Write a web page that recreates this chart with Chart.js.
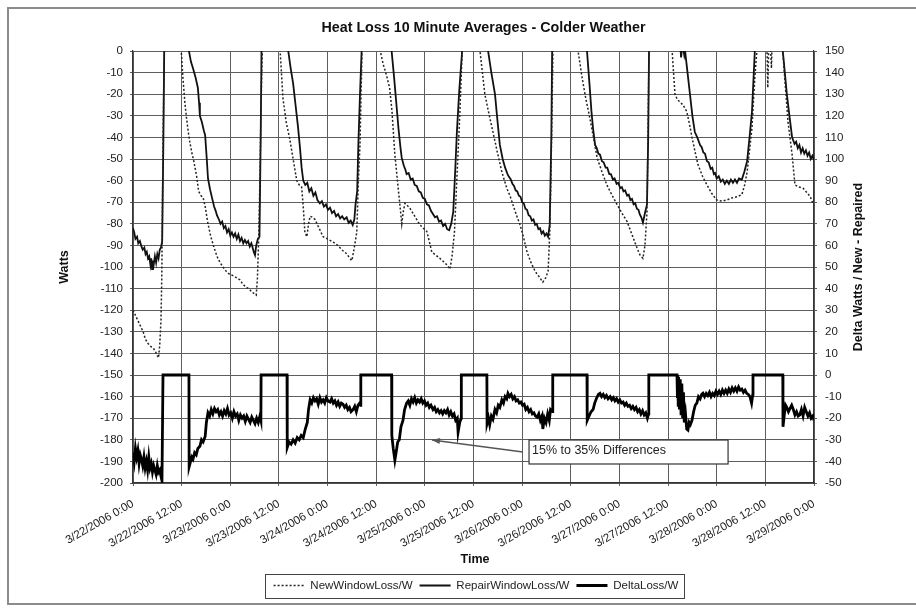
<!DOCTYPE html>
<html>
<head>
<meta charset="utf-8">
<script src="https://cdn.jsdelivr.net/npm/chart.js@4.4.1/dist/chart.umd.min.js"></script>
<style>
  html, body { margin: 0; padding: 0; background: #fff; }
  #wrap { width: 916px; height: 609px; }
</style>
</head>
<body>
<div id="wrap"><canvas id="heatLoss" width="916" height="609"></canvas></div>
<script>
'use strict';

// x = hours since 3/22/2006 0:00, y = watts
const newWindowLoss = [
  [0,-120],[0.5,-122],[1,-124],[1.5,-126],[2,-128],[2.5,-130],[3,-133],[3.5,-135],[4,-136],[4.5,-137],[5,-137.5],[5.5,-139],[6,-141],[6.3,-142],[6.6,-136],[6.9,-125],[7.1,-105],[7.4,-44],[7.7,0],[8,25],
  [11.6,15],[11.9,0],[12.3,-12],[12.8,-24],[13.2,-31],[13.6,-37],[14,-42],[14.5,-47],[15,-51],[15.7,-58],[16.2,-65],[16.8,-67],[17.3,-68],[17.8,-72],[18.5,-80],[19.2,-86],[20,-91],[20.7,-95],[21.5,-98],[22.2,-100],[23,-102],[23.9,-103.5],[24.7,-104],[25.6,-105],[26.4,-106],[27.1,-108],[28,-109.5],[28.6,-110],[29.3,-111.5],[30,-112.5],[30.4,-113],[30.7,-105],[31,-87],[31.3,-60],[31.6,-25],[31.9,0],[32.2,25],
  [36,15],[36.3,0],[37,-22],[37.8,-33],[38.7,-41],[39.5,-50],[40.4,-60],[41,-62],[41.6,-63],[42,-72],[42.4,-84],[42.9,-86],[43.3,-80],[43.7,-76.5],[44.3,-77],[44.9,-78],[45.9,-82],[46.9,-86],[48,-87],[49.4,-88.5],[50.5,-90],[51.8,-92.5],[52.8,-94],[53.5,-96],[54,-97],[54.5,-92],[55.2,-84],[55.6,-60],[56,-43.5],[56.5,0],[56.8,25],
  [60.7,15],[61,0],[61.7,-6],[62.5,-11],[63.3,-17],[63.9,-28],[64.6,-48],[65.5,-65],[66.1,-76],[66.3,-80],[66.7,-74],[67.1,-70.5],[68.3,-72.7],[69.5,-76.5],[70.8,-80.5],[72.5,-83.6],[73.2,-89],[73.7,-93],[74.7,-94.5],[75.7,-96],[76.6,-97.5],[77.4,-99],[78.2,-101],[78.7,-95],[79.3,-84],[79.9,-59],[80.6,-30],[81.2,0],[81.5,25],
  [85.3,15],[85.6,0],[86.2,-10],[86.8,-20],[87.8,-29],[88.8,-37.5],[89.9,-47],[91,-56],[92.2,-63.5],[93,-67],[93.7,-71],[94.6,-76],[95.5,-80.5],[96.3,-86],[97.2,-93],[98.2,-98],[99.2,-102],[100.2,-104.5],[101.1,-107],[101.8,-105],[102.4,-102],[102.8,-85],[103.1,-59],[103.6,0],[103.9,25],
  [109.5,15],[109.8,0],[110.8,-12.5],[111.7,-22],[112.7,-31],[113.6,-40],[114.5,-49.5],[115.7,-56],[116.9,-62],[118.1,-66.5],[119.4,-71],[120.6,-75],[121.9,-79],[122.9,-84],[123.8,-88.5],[124.5,-92],[125.1,-94.5],[125.8,-96],[126.3,-90],[126.8,-74.5],[127.3,0],[127.6,25],
  [132.7,15],[133,0],[133.7,-20],[134.3,-22.5],[134.9,-23.5],[135.7,-25],[136.6,-28],[137.3,-34],[137.9,-40],[138.7,-47],[139.4,-52.7],[140.5,-58],[141.6,-62],[142.8,-66],[144,-69],[145.3,-69.5],[146.5,-69],[147.8,-68],[149,-67.5],[150.2,-66.5],[150.9,-62],[151.5,-56],[152.1,-46],[152.7,-35.6],[153.1,-22],[153.4,-12.5],[153.9,0],[154.2,25],
  [156.2,20],[156.6,-17],[157,15],[157.5,-8],[157.9,20],
  [160,15],[160.3,0],[161,-18],[161.6,-33],[162.6,-48],[163.3,-62],[164.3,-63],[165.3,-63.5],[166,-65],[166.5,-66],[167.2,-68],[167.7,-70.5],[168,-71]
];

const repairWindowLoss = [
  [0,-82],[0.3,-84],[0.6,-87],[1,-86],[1.3,-89],[1.7,-88],[2,-90],[2.4,-92],[2.8,-91],[3.1,-94],[3.4,-93],[3.7,-96],[4,-95],[4.3,-99],[4.5,-96],[4.7,-101],[4.9,-97],[5.1,-99],[5.4,-95],[5.7,-98],[6,-94],[6.3,-96],[6.6,-92],[6.9,-91],[7.2,-88],[7.5,-40],[7.7,0],[8,25],
  [13.5,15],[13.8,0],[14.3,-5],[14.8,-8],[15.4,-12],[16,-17],[16.3,-24],[16.5,-30],[17,-33],[17.5,-37],[17.8,-39],[18.2,-50],[18.5,-59],[19,-64],[19.5,-68],[20,-72],[20.4,-74],[20.7,-76],[21.2,-78],[21.6,-80],[22,-79],[22.4,-82],[22.8,-81],[23.2,-84],[23.6,-82.5],[24,-85.5],[24.4,-84],[24.8,-86],[25.2,-84.5],[25.6,-87],[26,-85],[26.4,-88],[26.8,-86.5],[27.2,-89],[27.6,-87.5],[28,-89],[28.4,-88],[28.8,-90.5],[29.2,-89],[29.5,-91],[29.8,-93],[30.1,-94.5],[30.4,-90],[30.8,-87],[31.2,-86],[31.5,-40],[31.7,0],[32,25],
  [38,15],[38.3,0],[38.9,-8],[39.5,-15],[40.1,-25],[40.7,-35],[41.2,-45],[41.6,-54],[42,-60],[42.5,-62],[43,-61],[43.5,-65],[44,-63.5],[44.5,-67],[45,-65.5],[45.5,-69],[46.1,-70.5],[46.6,-69.5],[47.1,-72],[47.6,-71],[48.1,-73.5],[48.6,-72.5],[49.1,-75],[49.6,-74],[50.1,-76.5],[50.6,-75.5],[51.1,-77.5],[51.6,-76.5],[52.1,-78],[52.7,-77],[53.2,-79.5],[53.7,-78.5],[54.2,-80.5],[54.6,-78],[54.9,-71],[55.3,-65],[55.6,-43],[56,-20],[56.4,0],[56.7,25],
  [63.5,15],[63.8,0],[64.4,-12],[65,-25],[65.5,-36],[66,-45],[66.3,-49.5],[66.8,-53],[67.2,-55],[67.5,-57],[68,-56.5],[68.5,-59.5],[69,-59],[69.5,-62],[70,-62.5],[70.5,-65],[71,-65.5],[71.5,-68],[72,-68.5],[72.5,-71],[73,-71.5],[73.5,-74],[74,-75.5],[74.5,-77],[75,-76.5],[75.5,-79],[76,-78.5],[76.5,-81],[77,-80],[77.5,-82.5],[78,-83],[78.5,-80],[79,-74.5],[79.5,-55],[79.9,-37.5],[80.5,-18],[81.2,0],[81.5,25],
  [87.3,15],[87.6,0],[88.4,-10],[89.3,-20],[89.9,-32],[90.5,-43.5],[91.2,-50],[91.8,-54],[92.5,-57.5],[93.2,-59.5],[93.6,-61.5],[94,-62.5],[94.4,-64.5],[94.8,-65],[95.2,-67],[95.6,-67.5],[96,-70],[96.4,-70.5],[96.8,-73],[97.2,-73.5],[97.6,-76],[98,-76.5],[98.4,-78.5],[98.8,-78],[99.2,-80.5],[99.6,-80],[100,-82.5],[100.4,-82],[100.8,-84.5],[101.2,-83.5],[101.6,-85.5],[102,-84.5],[102.4,-86],[102.8,-80.5],[103.2,-40],[103.4,0],[103.7,25],
  [111.7,15],[112,0],[112.6,-15],[113.1,-28],[113.5,-36],[114,-43.5],[114.4,-45],[114.8,-47.5],[115.2,-48],[115.7,-51],[116.1,-51.5],[116.6,-54],[117,-54],[117.5,-57],[117.9,-57],[118.4,-59.5],[118.8,-59],[119.3,-61.5],[119.7,-61],[120.2,-63.5],[120.6,-63],[121,-65],[121.4,-64.5],[121.9,-67],[122.3,-66.5],[122.7,-69],[123.1,-68.5],[123.5,-71],[123.9,-70.5],[124.3,-73],[124.7,-73.5],[125,-75.5],[125.4,-77],[125.8,-79.5],[126.3,-75],[126.8,-71],[127.1,-40],[127.3,0],[127.6,25],
  [134.8,10],[135.2,-3],[135.6,3],[136,-2],[136.2,0],[136.8,-10],[137.4,-20],[138,-30],[138.6,-37.5],[139.2,-40],[139.9,-43.5],[140.3,-44.5],[140.7,-47],[141.1,-47.5],[141.6,-51],[142,-51.5],[142.5,-54.5],[142.9,-54],[143.3,-57],[143.6,-56.5],[144,-59],[144.5,-58],[145,-60.5],[145.5,-59.5],[146,-61.5],[146.5,-60],[147,-61.5],[147.5,-59.5],[148,-61],[148.5,-59.5],[149,-61],[149.5,-59],[150.2,-59.5],[150.8,-56],[151.5,-51],[152.1,-40],[152.7,-28],[153.1,-12],[153.4,0],[153.7,25],
  [160,15],[160.3,0],[160.8,-10],[161.3,-20],[162,-31],[162.6,-40],[163.2,-43],[163.6,-42],[164,-45],[164.4,-43.5],[164.8,-47],[165.2,-45],[165.6,-47.5],[166,-46],[166.4,-48.5],[166.8,-47],[167.2,-50],[167.6,-48.5],[168,-50.5]
];

// right axis: New - Repaired
const deltaLoss = [
  [0,-36],[0.3,-40],[0.6,-34],[0.9,-38],[1.2,-35],[1.5,-41],[1.8,-37],[2.1,-39],[2.4,-42],[2.7,-38],[3,-43],[3.3,-40],[3.6,-44],[3.9,-38],[4.2,-43],[4.5,-41],[4.8,-45],[5.1,-42],[5.4,-44],[5.7,-46],[6,-42],[6.3,-45],[6.6,-44],[6.9,-47],[7.15,-49],[7.4,0],
  [13.8,0],[13.85,-42.5],[14.2,-40],[14.5,-38],[14.8,-39],[15.2,-36],[15.6,-37],[16,-34],[16.5,-33],[16.9,-30],[17.3,-31],[17.8,-28.5],[18.1,-22],[18.5,-17.5],[18.9,-19],[19.3,-16],[19.7,-18],[20.1,-15.5],[20.5,-17],[20.9,-16],[21.3,-18.5],[21.7,-17],[22.1,-19],[22.5,-16.5],[22.9,-18],[23.3,-15.5],[23.7,-18.5],[24.1,-17.5],[24.5,-20],[24.9,-17],[25.3,-19],[25.7,-18],[26.1,-21],[26.5,-18.5],[26.9,-20],[27.3,-19],[27.7,-21.5],[28.1,-19],[28.5,-20.5],[28.9,-22],[29.3,-19.5],[29.7,-21],[30.1,-22.5],[30.5,-20],[30.9,-22],[31.3,-19],[31.55,-21],[31.6,0],
  [38,0],[38.05,-33.5],[38.5,-31],[39,-32],[39.5,-30],[40,-31.5],[40.5,-29],[41,-30],[41.5,-28],[42,-29],[42.5,-25],[43,-22],[43.3,-16],[43.7,-11.5],[44.1,-13],[44.5,-10.5],[44.9,-12],[45.3,-11],[45.7,-13.5],[46.1,-10.5],[46.5,-12.5],[46.9,-11.5],[47.3,-13],[47.7,-10.5],[48.1,-12],[48.6,-12.5],[49,-11],[49.4,-13],[49.8,-12],[50.2,-14],[50.6,-12.5],[51,-14.5],[51.4,-13],[51.8,-13.5],[52.2,-15],[52.6,-14],[53,-16],[53.4,-15],[53.8,-17],[54.3,-16],[54.7,-14.5],[55.1,-17],[55.5,-14],[55.9,-13],[56.15,-14],[56.2,0],
  [63.8,0],[63.85,-28],[64.2,-34],[64.6,-39.5],[64.9,-36],[65.3,-31],[65.7,-30],[66.1,-24],[66.6,-21],[67,-16],[67.5,-13],[67.9,-12],[68.3,-14],[68.7,-11],[69.1,-12.5],[69.5,-10.5],[69.9,-13],[70.3,-11.5],[70.7,-12.5],[71.1,-11],[71.5,-13],[71.9,-12],[72.3,-14],[72.7,-13],[73.1,-15],[73.5,-14],[74,-16],[74.4,-15],[74.8,-17],[75.2,-16],[75.6,-17.5],[76,-16.5],[76.4,-18],[76.8,-16.5],[77.2,-17.5],[77.6,-16],[78,-18.5],[78.4,-17],[78.8,-19],[79.2,-18],[79.6,-21],[80,-20],[80.2,-26.5],[80.6,-22],[80.95,-20],[81,0],
  [87.3,0],[87.35,-22.5],[87.7,-20],[88,-23],[88.4,-19],[88.8,-20.5],[89.3,-16],[89.7,-17.5],[90.1,-14],[90.5,-15],[91,-11.5],[91.4,-13],[91.8,-10],[92.2,-11],[92.5,-8.5],[92.9,-10],[93.3,-9],[93.7,-11],[94.1,-10],[94.5,-12],[94.9,-11.5],[95.3,-13],[95.7,-12.5],[96.1,-14],[96.5,-13.5],[96.9,-16],[97.3,-15],[97.7,-17],[98.1,-16],[98.5,-18],[98.9,-17.5],[99.3,-19],[99.7,-19.5],[100.1,-18],[100.5,-21],[100.9,-19],[101.1,-25],[101.5,-20],[101.9,-22],[102.3,-18],[102.7,-21],[103,-16],[103.5,-17],[103.55,0],
  [112,0],[112.05,-21],[112.5,-19],[113,-17],[113.5,-16],[113.9,-13],[114.3,-11],[114.8,-9],[115.2,-8.5],[115.6,-10],[116,-9],[116.4,-10.5],[116.8,-9.5],[117.2,-11],[117.7,-10],[118.1,-11.5],[118.5,-10.5],[118.9,-12],[119.3,-11],[119.7,-12.5],[120.1,-11.5],[120.5,-13],[120.9,-12.5],[121.3,-14],[121.7,-13],[122.1,-14.5],[122.5,-14],[122.9,-15.5],[123.3,-14.5],[123.7,-16],[124.1,-15],[124.5,-17],[124.9,-16],[125.3,-18],[125.7,-16.5],[126.1,-18.5],[126.5,-17.5],[126.9,-20],[127.2,-18],[127.25,0],
  [134.2,0],[134.3,-10],[134.4,0],[134.5,-14],[134.6,-1],[134.8,-16],[135,-2],[135.2,-18],[135.4,-4],[135.6,-20],[135.8,-8],[136,-22],[136.3,-18],[136.6,-25],[136.9,-25.5],[137.2,-22],[137.5,-23],[137.9,-21],[138.3,-17],[138.7,-14],[139.1,-13],[139.5,-10],[139.9,-11],[140.3,-9],[140.6,-8.5],[141,-10],[141.4,-8.5],[141.8,-9.5],[142.2,-8],[142.6,-10],[143,-8.5],[143.4,-9.5],[143.8,-7.5],[144.2,-9],[144.6,-7.5],[145,-9],[145.4,-7],[145.8,-8.5],[146.2,-7],[146.6,-8.5],[147,-6.5],[147.4,-8],[147.8,-6],[148.2,-7.5],[148.6,-6],[149,-7.5],[149.4,-5.5],[149.8,-7],[150.2,-6.5],[150.6,-8],[151,-7],[151.4,-8.5],[151.8,-9],[152.2,-10],[152.6,-13],[152.9,-9],[152.95,0],
  [160.3,0],[160.35,-24],[160.7,-18],[161,-14],[161.3,-15],[161.7,-17],[162.1,-15.5],[162.5,-14],[162.9,-16],[163.3,-18.5],[163.7,-17],[164.1,-19],[164.5,-18.5],[164.9,-16],[165.3,-19],[165.7,-15],[166.1,-17],[166.5,-19],[166.9,-17.5],[167.3,-20],[167.7,-19],[168,-21]
];

const seriesNames = ['NewWindowLoss/W', 'RepairWindowLoss/W', 'DeltaLoss/W'];
const TITLE = 'Heat Loss 10 Minute Averages - Colder Weather';
const Y_TITLE = 'Watts';
const Y2_TITLE = 'Delta Watts / New - Repaired';
const X_TITLE = 'Time';

// callout, in data units (hours, delta watts)
const NOTE_TEXT = '15% to 35% Differences';
const NOTE_BOX = { x0: 97.7, x1: 146.8, y0: -30.1, y1: -41.2 };
const NOTE_TAIL = [96.2, -35.6];
const NOTE_TIP = [73.75, -30.1];

const FONT = '"Liberation Sans", Arial, Helvetica, sans-serif';
Chart.defaults.font.family = FONT;
Chart.defaults.color = '#222';

const toXY = pts => pts.map(([x, y]) => ({ x, y }));

function hourLabel(v) {
  const day = 22 + Math.floor(v / 24);
  return '3/' + day + '/2006 ' + (v % 24) + ':00';
}

// 제목, 축 제목, 범례 테두리, 설명 상자
const decor = {
  id: 'decor',
  beforeDraw(chart) {
    const { ctx, width, height } = chart;
    ctx.save();
    ctx.fillStyle = '#fff';
    ctx.fillRect(0, 0, width, height);
    ctx.strokeStyle = '#8c8c8c';
    ctx.lineWidth = 2;
    ctx.strokeRect(8, 8, width + 10, height - 13);
    ctx.restore();
  },
  afterDraw(chart) {
    const { ctx, chartArea: a, scales } = chart;
    const midX = (a.left + a.right) / 2;
    const midY = (a.top + a.bottom) / 2;
    ctx.save();
    ctx.fillStyle = '#111';
    ctx.textAlign = 'center';
    ctx.textBaseline = 'middle';

    ctx.font = 'bold 14.3px ' + FONT;
    ctx.fillText(TITLE, midX + 10, a.top - 23);

    ctx.font = 'bold 12.5px ' + FONT;
    ctx.fillText(X_TITLE, midX + 1.5, a.bottom + 77);
    [[a.left - 68, Y_TITLE], [a.right + 45, Y2_TITLE]].forEach(([x, t]) => {
      ctx.save();
      ctx.translate(x, midY);
      ctx.rotate(-Math.PI / 2);
      ctx.fillText(t, 0, 0);
      ctx.restore();
    });

    // 범례 테두리
    const hb = chart.legend.legendHitBoxes;
    if (hb && hb.length) {
      const last = hb[hb.length - 1];
      const l = hb[0].left - 9;
      const r = last.left + last.width + 5;
      const cy = hb[0].top + hb[0].height / 2;
      ctx.strokeStyle = '#444';
      ctx.lineWidth = 1;
      ctx.strokeRect(Math.round(l) + 0.5, Math.round(cy - 12) + 0.5, Math.round(r - l), 24);
    }

    // 설명 상자와 화살표
    const sx = scales.x, sy = scales.y2;
    const bx0 = sx.getPixelForValue(NOTE_BOX.x0), bx1 = sx.getPixelForValue(NOTE_BOX.x1);
    const by0 = sy.getPixelForValue(NOTE_BOX.y0), by1 = sy.getPixelForValue(NOTE_BOX.y1);
    ctx.fillStyle = '#fff';
    ctx.fillRect(bx0, by0, bx1 - bx0, by1 - by0);
    ctx.strokeStyle = '#333';
    ctx.lineWidth = 1.2;
    ctx.strokeRect(bx0, by0, bx1 - bx0, by1 - by0);
    ctx.fillStyle = '#222';
    ctx.textAlign = 'left';
    ctx.font = '12.5px ' + FONT;
    ctx.fillText(NOTE_TEXT, bx0 + 3, (by0 + by1) / 2 - 1);

    const tx = sx.getPixelForValue(NOTE_TAIL[0]), ty = sy.getPixelForValue(NOTE_TAIL[1]);
    const px = sx.getPixelForValue(NOTE_TIP[0]), py = sy.getPixelForValue(NOTE_TIP[1]);
    ctx.strokeStyle = '#555';
    ctx.lineWidth = 1.5;
    ctx.beginPath();
    ctx.moveTo(tx, ty);
    ctx.lineTo(px, py);
    ctx.stroke();
    const ang = Math.atan2(py - ty, px - tx);
    ctx.fillStyle = '#555';
    ctx.beginPath();
    ctx.moveTo(px, py);
    ctx.lineTo(px - 8 * Math.cos(ang) + 3 * Math.sin(ang), py - 8 * Math.sin(ang) - 3 * Math.cos(ang));
    ctx.lineTo(px - 8 * Math.cos(ang) - 3 * Math.sin(ang), py - 8 * Math.sin(ang) + 3 * Math.cos(ang));
    ctx.closePath();
    ctx.fill();
    ctx.restore();
  }
};

const GRID = '#5e5e5e';
const tickFont = { size: 11.5 };

new Chart(document.getElementById('heatLoss'), {
  type: 'line',
  data: {
    datasets: [
      {
        label: seriesNames[0],
        data: toXY(newWindowLoss),
        yAxisID: 'y',
        borderColor: '#222',
        borderWidth: 1.5,
        borderDash: [2, 2],
        pointRadius: 0,
        tension: 0,
      },
      {
        label: seriesNames[1],
        data: toXY(repairWindowLoss),
        yAxisID: 'y',
        borderColor: '#111',
        borderWidth: 1.8,
        pointRadius: 0,
        tension: 0,
      },
      {
        label: seriesNames[2],
        data: toXY(deltaLoss),
        yAxisID: 'y2',
        borderColor: '#000',
        borderWidth: 2.8,
        pointRadius: 0,
        tension: 0,
      },
    ],
  },
  options: {
    responsive: false,
    animation: false,
    events: [],
    layout: { padding: { left: 36, right: 0, top: 51, bottom: 7.75 } },
    plugins: {
      title: { display: false },
      tooltip: { enabled: false },
      legend: {
        position: 'bottom',
        labels: {
          usePointStyle: true,
          pointStyleWidth: 31,
          padding: 7,
          color: '#222',
          font: { size: 11.5 },
          generateLabels(chart) {
            return chart.data.datasets.map((ds, i) => ({
              text: ds.label,
              datasetIndex: i,
              pointStyle: 'line',
              lineWidth: ds.borderWidth,
              strokeStyle: ds.borderColor,
              fillStyle: ds.borderColor,
              lineDash: ds.borderDash || [],
              fontColor: '#222',
              hidden: false,
            }));
          },
        },
      },
    },
    scales: {
      x: {
        type: 'linear',
        position: 'bottom',
        min: 0,
        max: 168,
        afterFit(scale) { scale.height = 89.75; },
        grid: { color: GRID, lineWidth: 1, tickLength: 3 },
        border: { color: '#333', width: 1.2 },
        ticks: {
          stepSize: 12,
          maxTicksLimit: 100,
          autoSkip: false,
          minRotation: 30,
          maxRotation: 30,
          padding: 11,
          font: tickFont,
          color: '#222',
          callback: v => hourLabel(v),
        },
      },
      y: {
        position: 'left',
        min: -200,
        max: 0,
        afterFit(scale) { scale.width = 97; },
        grid: { color: GRID, lineWidth: 1, tickLength: 3 },
        border: { color: '#333', width: 1.2 },
        ticks: {
          stepSize: 10,
          maxTicksLimit: 100,
          autoSkip: false,
          padding: 7,
          font: tickFont,
          color: '#222',
          callback: v => String(v),
        },
      },
      y2: {
        position: 'right',
        min: -50,
        max: 150,
        afterFit(scale) { scale.width = 102; },
        grid: { drawOnChartArea: false, color: GRID, tickLength: 3 },
        border: { color: '#333', width: 1.2 },
        ticks: {
          stepSize: 10,
          maxTicksLimit: 100,
          autoSkip: false,
          padding: 8,
          font: tickFont,
          color: '#222',
          callback: v => String(v),
        },
      },
    },
  },
  plugins: [decor],
});
</script>
</body>
</html>
